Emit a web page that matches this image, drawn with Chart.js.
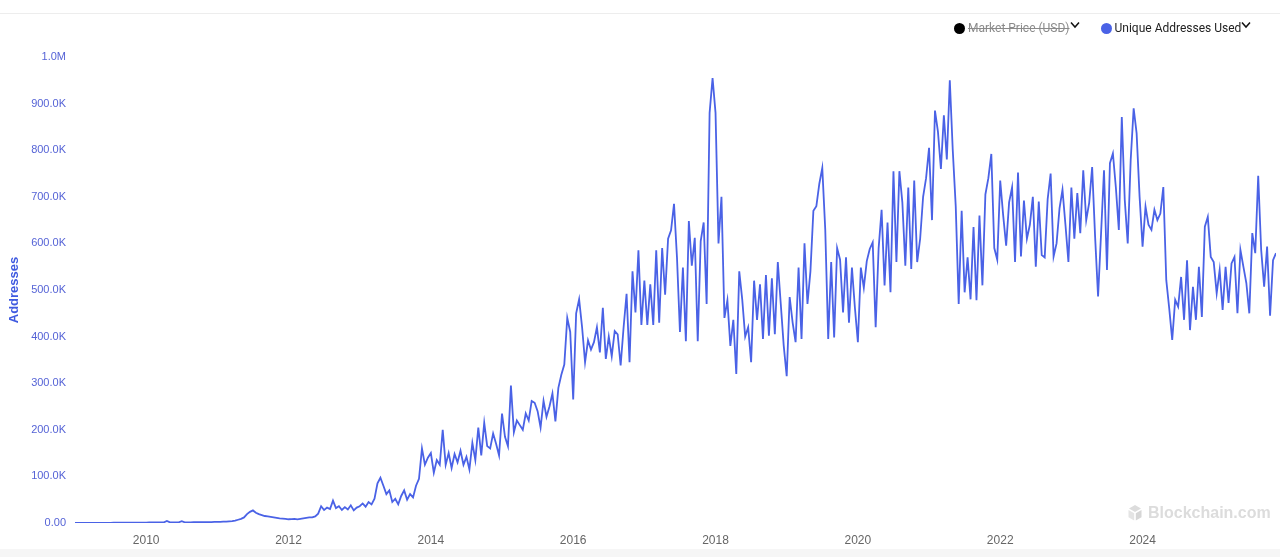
<!DOCTYPE html>
<html>
<head>
<meta charset="utf-8">
<script src="https://cdn.jsdelivr.net/npm/chart.js@4.4.1/dist/chart.umd.min.js"></script>
<style>
  html, body { margin:0; padding:0; background:#fff; width:1280px; height:557px; overflow:hidden; }
  #topline { position:absolute; left:0; top:13px; width:1280px; height:0; border-top:1px solid #ededed; }
  #bottomband { position:absolute; left:0; top:549px; width:1280px; height:8px; background:#f6f6f6; }
  #wrap { position:absolute; left:0; top:0; width:1280px; height:549px; }
  #legend { position:absolute; top:19px; left:954px; height:18px; display:flex; align-items:center; white-space:nowrap;
            font-family:Roboto, "Noto Sans", sans-serif; font-size:12px; color:#222; }
  .item { display:flex; align-items:center; margin-right:21px; white-space:nowrap; }
  .dot { width:11px; height:11px; border-radius:50%; margin-right:3px; flex:none; }
  .off { color:#8a8a8a; text-decoration:line-through; }
  .chev { margin-left:0px; position:relative; top:-3px; flex:none; }
  #mark { position:absolute; left:1127px; top:504px; display:flex; align-items:center;
          font-family:"Liberation Sans", Arial, sans-serif; font-weight:bold; font-size:16px; color:#dcdcdc; }
  #mark svg { margin-right:5px; }
</style>
</head>
<body>
<div id="topline"></div>
<div id="wrap"><canvas id="c" width="1280" height="549"></canvas></div>
<div id="bottomband"></div>
<div id="legend">
  <div class="item"><div class="dot" style="background:#000"></div><span class="off">Market Price (USD)</span><svg class="chev" width="10" height="8" viewBox="0 0 10 8"><polyline points="1,1.5 5,6 9,1.5" fill="none" stroke="#111" stroke-width="1.5"/></svg></div>
  <div class="item"><div class="dot" style="background:#4a62e6"></div><span>Unique Addresses Used</span><svg class="chev" width="10" height="8" viewBox="0 0 10 8"><polyline points="1,1.5 5,6 9,1.5" fill="none" stroke="#111" stroke-width="1.5"/></svg></div>
</div>
<div id="mark">
  <svg width="16" height="18" viewBox="0 0 16 18">
    <polygon points="8,1 14,4.5 8,8 2,4.5" fill="#dcdcdc"/>
    <polygon points="1.5,6 7.2,9.3 7.2,16.5 1.5,13.2" fill="#e4e4e4"/>
    <polygon points="14.5,6 8.8,9.3 8.8,16.5 14.5,13.2" fill="#d6d6d6"/>
  </svg>
  <span>Blockchain.com</span>
</div>
<script>
// Unique addresses used (thousands), two readings per month, per year
const y2009 = [0.1,0.1,0.1,0.2,0.2,0.2,0.3,0.3,0.3,0.3,0.4,0.4,0.4,0.5,0.5,0.5,0.6,0.6,0.7,0.7,0.8,0.8,0.9,1.0];
const y2010 = [1.0,1.1,1.1,1.2,1.2,1.3,1.5,4.5,1.4,1.3,1.4,1.5,3.8,1.5,1.4,1.5,1.6,1.6,1.7,1.8,1.8,1.9,2.0,2.2];
const y2011 = [2.3,2.5,2.8,3.0,3.5,4.0,5.0,7.0,9.0,12,19,24,27,22,19,17,15,14,13,12,11,10,9.5,9];
const y2012 = [8,8.5,9,8,9,10,11,12,12,14,20,36,28,33,30,48,32,36,28,34,29,38,27,33];
const y2013 = [36,42,35,45,40,52,85,97,80,62,70,45,52,40,58,70,50,62,55,80,95,160,125,140];
const y2014 = [150,108,135,125,200,125,150,118,148,130,155,125,142,115,172,135,205,145,215,165,160,192,170,145];
const y2015 = [235,185,165,295,195,220,210,200,235,220,262,258,240,205,262,228,250,278,218,290,318,340,440,410];
const y2016 = [265,450,480,420,345,392,372,388,420,366,462,352,400,358,412,405,338,420,492,345,540,452,585,425];
const y2017 = [520,425,512,425,585,430,590,490,610,628,685,570,410,548,390,648,552,612,390,605,645,470,880,955];
const y2018 = [880,600,700,440,478,380,436,320,540,480,400,420,345,520,436,512,395,532,402,525,405,560,470,380];
const y2019 = [315,485,430,388,548,395,600,470,540,670,680,728,762,630,395,560,398,590,565,452,570,430,548,462];
const y2020 = [388,548,505,562,588,602,420,590,672,510,645,495,755,560,755,688,552,720,545,735,560,610,700,740];
const y2021 = [805,650,885,840,760,875,780,950,800,680,470,670,495,570,480,635,478,660,510,705,740,792,590,565];
const y2022 = [735,660,595,688,720,560,752,572,692,610,640,700,550,690,575,570,695,750,572,600,675,715,640,560];
const y2023 = [720,610,708,622,757,650,687,764,614,486,620,757,543,772,793,720,629,871,693,600,779,890,836,700];
const y2024 = [593,679,640,629,672,650,664,721,521,460,393,479,464,528,436,564,414,507,436,550,442,636,657,571];
const y2025 = [560,493,543,457,550,472,557,571,450,586,550,515,450,622,579,745,586,507,593,445,564,579];

const years = [2009,2010,2011,2012,2013,2014,2015,2016,2017,2018,2019,2020,2021,2022,2023,2024,2025];
const yearValues = [y2009,y2010,y2011,y2012,y2013,y2014,y2015,y2016,y2017,y2018,y2019,y2020,y2021,y2022,y2023,y2024,y2025];
const xTickYears = [2010,2012,2014,2016,2018,2020,2022,2024];
const yTicks = [0,100,200,300,400,500,600,700,800,900,1000];

const points = [];
years.forEach((yr, k) => {
  yearValues[k].forEach((v, i) => points.push({x: yr + i / 24, y: v}));
});

const fmtY = v => v === 0 ? '0.00' : (v >= 1000 ? (v / 1000).toFixed(1) + 'M' : v.toFixed(1) + 'K');

new Chart(document.getElementById('c'), {
  type: 'line',
  data: {
    datasets: [{
      label: 'Unique Addresses Used',
      data: points,
      borderColor: '#4a62e6',
      backgroundColor: '#4a62e6',
      borderWidth: 1.8,
      pointRadius: 0,
      tension: 0,
      fill: false
    }]
  },
  options: {
    responsive: false,
    animation: false,
    parsing: false,
    layout: { padding: { top: 57, right: 4, left: 0, bottom: 0 } },
    plugins: { legend: { display: false }, tooltip: { enabled: false } },
    scales: {
      x: {
        type: 'linear',
        min: 2009,
        max: 2025.875,
        grid: { display: false, drawTicks: false },
        border: { display: false },
        afterBuildTicks: s => { s.ticks = xTickYears.map(v => ({ value: v })); },
        afterFit: s => { s.height = 26; },
        ticks: {
          padding: 10,
          maxRotation: 0,
          autoSkip: false,
          color: '#666',
          font: { family: '"Liberation Sans", Arial, sans-serif', size: 12 },
          callback: v => String(v)
        }
      },
      y: {
        min: 0,
        max: 1000,
        grid: { display: false, drawTicks: false },
        border: { display: false },
        afterBuildTicks: s => { s.ticks = yTicks.map(v => ({ value: v })); },
        afterFit: s => { s.width = 75; },
        title: {
          display: true,
          text: 'Addresses',
          color: '#3f5ae0',
          padding: { top: 7, bottom: 0 },
          font: { family: '"Liberation Sans", Arial, sans-serif', size: 13, weight: 'bold' }
        },
        ticks: {
          padding: 9,
          color: '#5563d6',
          font: { family: '"Liberation Sans", Arial, sans-serif', size: 11 },
          callback: v => fmtY(v)
        }
      }
    }
  }
});
</script>
</body>
</html>
